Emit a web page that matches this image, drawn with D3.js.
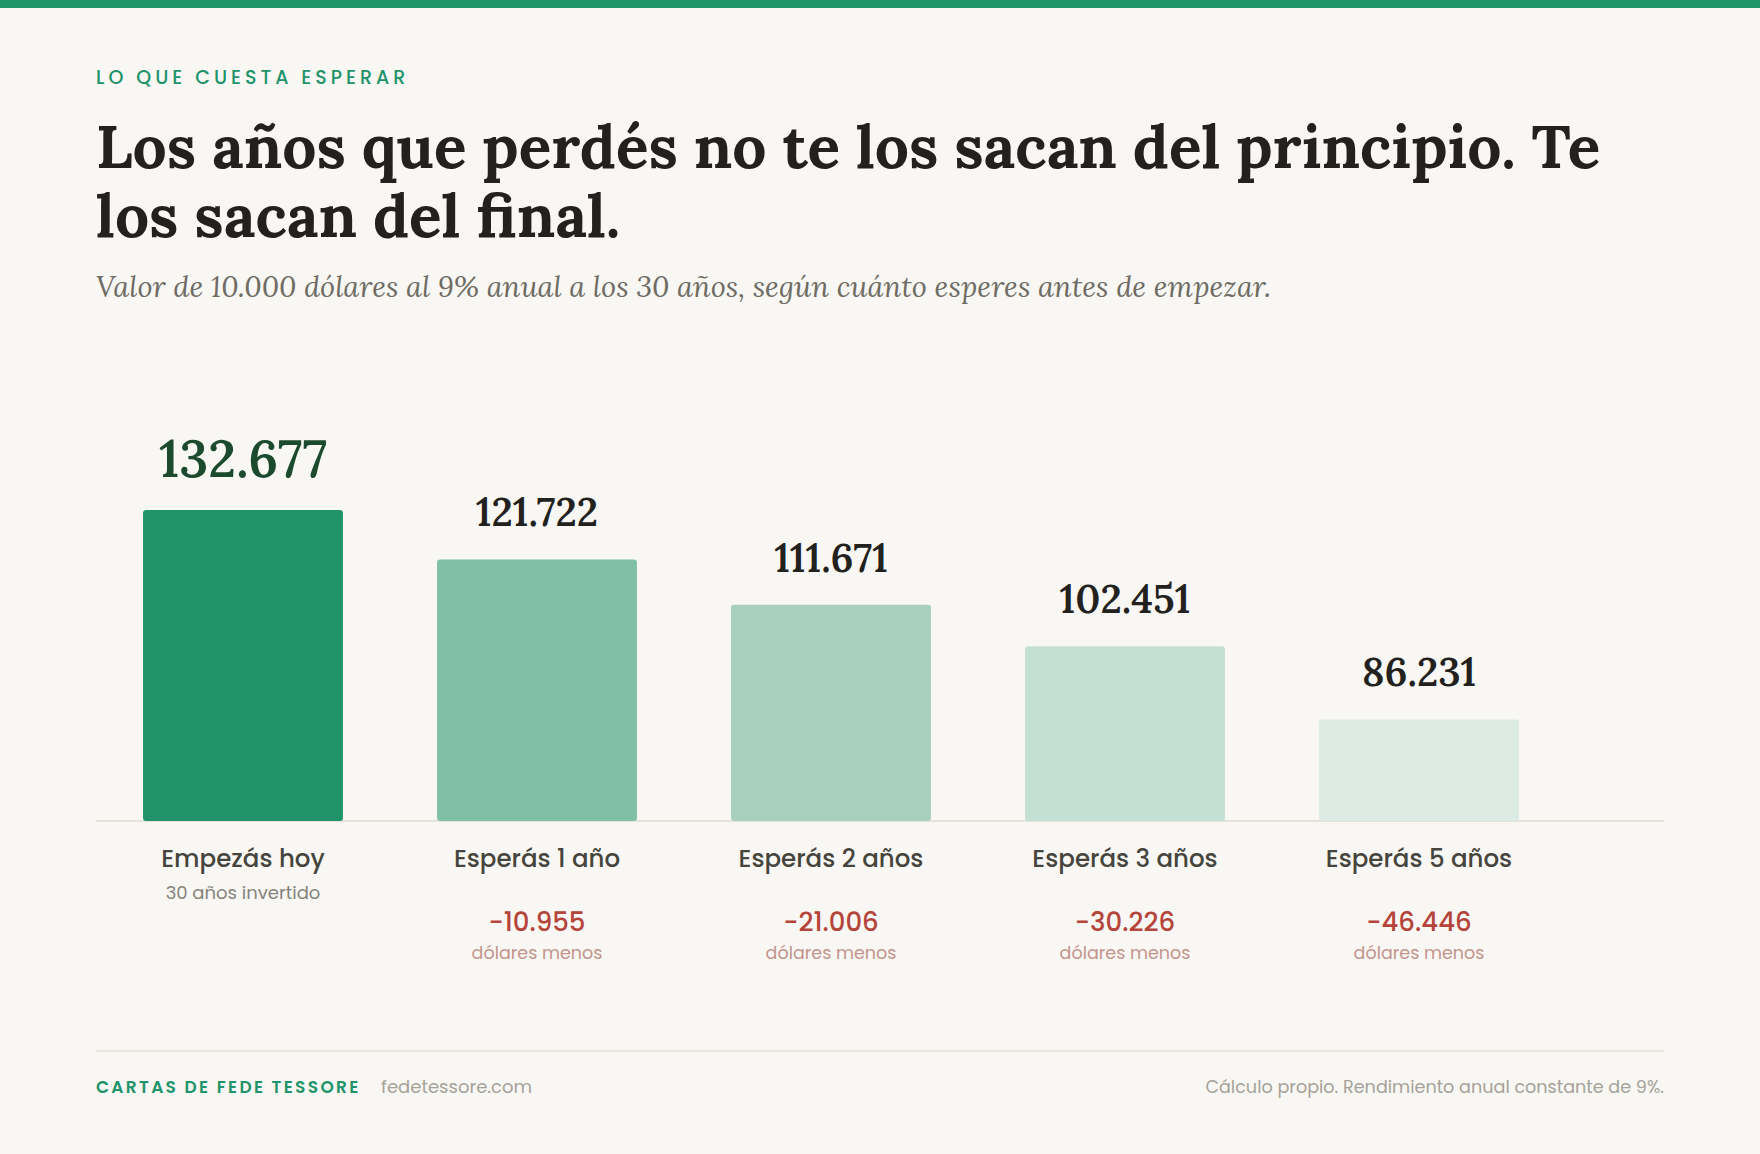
<!DOCTYPE html>
<html lang="es">
<head>
<meta charset="utf-8">
<script src="https://cdn.jsdelivr.net/npm/d3@7"></script>
<style>
  html, body { margin: 0; padding: 0; background: #f8f7f3; }
  svg { display: block; }
</style>
</head>
<body>
<div id="chart"></div>
<script>
// values
const categories = ['Empezás hoy', 'Esperás 1 año', 'Esperás 2 años', 'Esperás 3 años', 'Esperás 5 años']
const values = [132677, 121722, 111671, 102451, 86231]
const losses = [null, -10955, -21006, -30226, -46446]
const subNotes = ['30 años invertido', 'dólares menos', 'dólares menos', 'dólares menos', 'dólares menos']
const barColors = ['#20936a', '#80c0a6', '#a9cfbe', '#c4dfd3', '#dcebe4']

const width = 1760,
  height = 1154,
  padX = 96,
  baseY = 821

const sans = "Poppins, Inter, 'Noto Sans', sans-serif"
const serif = "Lora, 'Liberation Serif', serif"

const es = d3.formatLocale({ decimal: ',', thousands: '.', grouping: [3], currency: ['$', ''], minus: '-' })
const fmt = es.format(',d')

const svg = d3
  .select('#chart')
  .append('svg')
  .attr('width', width)
  .attr('height', height)

svg.append('rect').attr('width', width).attr('height', height).attr('fill', '#f8f7f3')
svg.append('rect').attr('width', width).attr('height', 8).attr('fill', '#1f936a')

// header
svg
  .append('text')
  .attr('x', padX)
  .attr('y', 83.5)
  .attr('font-family', sans)
  .attr('font-size', 19)
  .attr('font-weight', 500)
  .attr('letter-spacing', 4)
  .attr('fill', '#1f936a')
  .text('LO QUE CUESTA ESPERAR')

const titleLines = ['Los años que perdés no te los sacan del principio. Te', 'los sacan del final.']
svg
  .append('g')
  .selectAll('text')
  .data(titleLines)
  .join('text')
  .attr('x', padX)
  .attr('y', (d, i) => 168 + i * 69)
  .attr('font-family', serif)
  .attr('font-size', 60.5)
  .attr('font-weight', 700)
  .attr('fill', '#22211d')
  .text((d) => d)

svg
  .append('text')
  .attr('x', padX)
  .attr('y', 297)
  .attr('font-family', serif)
  .attr('font-style', 'italic')
  .attr('font-size', 29)
  .attr('fill', '#6e6c64')
  .text('Valor de 10.000 dólares al 9% anual a los 30 años, según cuánto esperes antes de empezar.')

// scales
const x = d3
  .scaleBand()
  .domain(categories)
  .range([padX, 1566])
  .paddingInner(0.32)
  .paddingOuter(0.16)

const y = d3.scaleLinear().domain([63700, 132677]).range([baseY, 510])

const color = d3.scaleOrdinal().domain(categories).range(barColors)

// baseline
svg
  .append('line')
  .attr('x1', padX)
  .attr('x2', width - padX)
  .attr('y1', baseY)
  .attr('y2', baseY)
  .attr('stroke', '#e7e2d8')
  .attr('stroke-width', 2)

const rows = categories.map((c, i) => ({ cat: c, value: values[i], loss: losses[i], note: subNotes[i] }))

const col = svg
  .append('g')
  .selectAll('g')
  .data(rows)
  .join('g')
  .attr('transform', (d) => `translate(${x(d.cat)}, 0)`)

col
  .append('rect')
  .attr('y', (d) => y(d.value))
  .attr('width', x.bandwidth())
  .attr('height', (d) => baseY - y(d.value))
  .attr('rx', 3)
  .attr('fill', (d) => color(d.cat))

const cx = x.bandwidth() / 2

// value on top
col
  .append('text')
  .attr('x', cx)
  .attr('y', (d) => y(d.value) - 33)
  .attr('text-anchor', 'middle')
  .attr('font-family', serif)
  .attr('font-weight', 600)
  .attr('font-size', (d, i) => (i === 0 ? 52 : 40))
  .attr('fill', (d, i) => (i === 0 ? '#1b4a2f' : '#22211d'))
  .text((d) => fmt(d.value))

// category label
col
  .append('text')
  .attr('x', cx)
  .attr('y', 867)
  .attr('text-anchor', 'middle')
  .attr('font-family', sans)
  .attr('font-weight', 500)
  .attr('font-size', 24.5)
  .attr('fill', '#45443d')
  .text((d) => d.cat)

// first column note
col
  .filter((d) => d.loss == null)
  .append('text')
  .attr('x', cx)
  .attr('y', 899)
  .attr('text-anchor', 'middle')
  .attr('font-family', sans)
  .attr('font-size', 18)
  .attr('fill', '#85847c')
  .text((d) => d.note)

// losses
const lossCol = col.filter((d) => d.loss != null)
lossCol
  .append('text')
  .attr('x', cx)
  .attr('y', 931)
  .attr('text-anchor', 'middle')
  .attr('font-family', sans)
  .attr('font-weight', 500)
  .attr('font-size', 26)
  .attr('fill', '#b5443a')
  .text((d) => fmt(d.loss))
lossCol
  .append('text')
  .attr('x', cx)
  .attr('y', 959)
  .attr('text-anchor', 'middle')
  .attr('font-family', sans)
  .attr('font-size', 17.5)
  .attr('fill', '#c4948c')
  .text((d) => d.note)

// footer
svg
  .append('line')
  .attr('x1', padX)
  .attr('x2', width - padX)
  .attr('y1', 1051)
  .attr('y2', 1051)
  .attr('stroke', '#e4e1da')
  .attr('stroke-width', 1.5)

svg
  .append('text')
  .attr('x', padX)
  .attr('y', 1093)
  .attr('font-family', sans)
  .attr('font-size', 17)
  .attr('font-weight', 600)
  .attr('letter-spacing', 2.3)
  .attr('fill', '#1f936a')
  .text('CARTAS DE FEDE TESSORE')

svg
  .append('text')
  .attr('x', 381)
  .attr('y', 1093)
  .attr('font-family', sans)
  .attr('font-size', 18)
  .attr('fill', '#a5a29a')
  .text('fedetessore.com')

svg
  .append('text')
  .attr('x', width - padX)
  .attr('y', 1093)
  .attr('text-anchor', 'end')
  .attr('font-family', sans)
  .attr('font-size', 17.6)
  .attr('fill', '#a5a29a')
  .text('Cálculo propio. Rendimiento anual constante de 9%.')
</script>
</body>
</html>
